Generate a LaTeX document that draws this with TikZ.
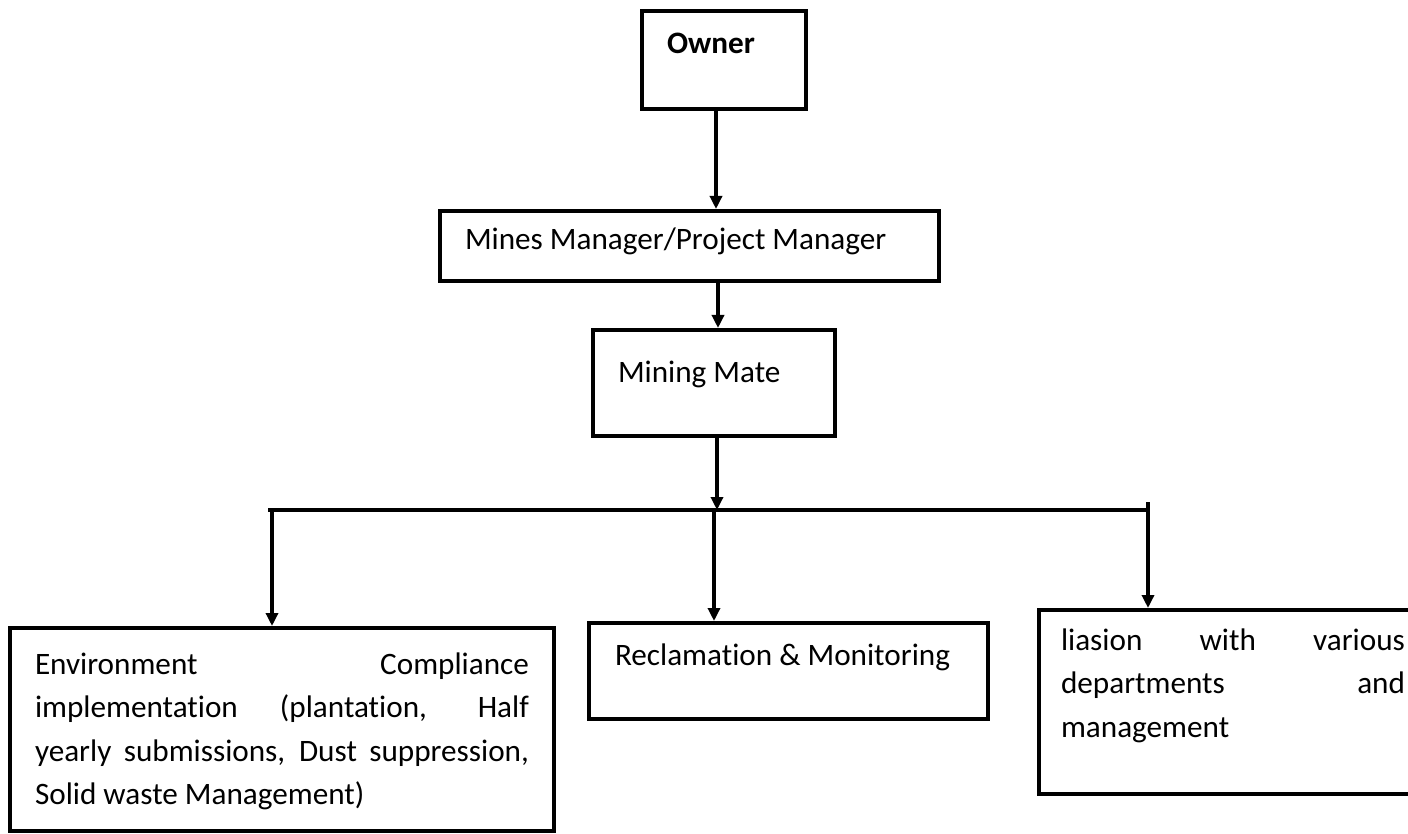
\documentclass[tikz,border=0pt]{standalone}
\usepackage{fontspec}
\setmainfont{Carlito}[Ligatures=NoCommon]
\usetikzlibrary{arrows.meta}

% box whose text starts at a fixed baseline below its top edge
% #1 text width, #2 box height, #3 first baseline depth, #4 text
\newcommand\boxtext[4]{\parbox[c][#2pt][t]{#1pt}{\rule{0pt}{#3pt}#4}}
\newcommand\fullline[2]{\makebox[#1pt][s]{#2}}

\begin{document}
\begin{tikzpicture}[x=1pt,y=-1pt,
  orgbox/.style={draw, line width=4pt, anchor=north west, inner ysep=0pt,
    inner xsep=25pt, font=\fontsize{31.2pt}{43.5pt}\selectfont},
  link/.style={line width=4pt},
  arr/.style={line width=4pt, -{Triangle[length=13pt,width=12pt]}}]

\useasboundingbox (0,0) rectangle (1408,834);
\clip (0,0) rectangle (1408,834);
\fill[white] (0,0) rectangle (1408,834);

% chain of command
\node[orgbox] (owner) at (640,9)
  {\boxtext{114}{98}{43}{\textbf{Owner}}};
\node[orgbox] (mines) at (438,209)
  {\boxtext{449}{70}{39}{Mines Manager/Project Manager}};
\node[orgbox] (mate) at (591,328)
  {\boxtext{192}{106}{52}{Mining Mate}};

% duties
\node[orgbox] (env) at (8,626)
  {\boxtext{494}{203}{46}{\fullline{494}{Environment Compliance}\\
    \fullline{494}{implementation (plantation, Half}\\
    \fullline{494}{yearly submissions, Dust suppression,}\\
    Solid waste Management)}};
\node[orgbox, inner xsep=26pt] (recl) at (587,621)
  {\boxtext{347}{96}{42}{Reclamation \& Monitoring}};
\node[orgbox, inner xsep=22pt] (liaison) at (1037,608)
  {\boxtext{344}{184}{40}{\fullline{344}{liasion with various}\\
    \fullline{344}{departments and}\\
    management}};

% distribution bar
\coordinate (barL) at (268,510);
\coordinate (barR) at (1148,510);
\coordinate (dropL) at (272,510);
\coordinate (dropM) at (714,510);
\coordinate (dropR) at (1148,502);

\draw[arr] ([xshift=-8pt]owner.south) -- ([xshift=-8pt]owner.south |- mines.north);
\draw[arr] ([xshift=4pt]mate.north |- mines.south) -- ([xshift=4pt]mate.north);
\draw[arr] ([xshift=3pt]mate.south) -- ([xshift=3pt]mate.south |- barL);
\draw[link] (barL) -- (barR);
\draw[arr] (dropL) -- (dropL |- env.north);
\draw[arr] (dropM) -- (dropM |- recl.north);
\draw[arr] (dropR) -- (dropR |- liaison.north);
\end{tikzpicture}
\end{document}
